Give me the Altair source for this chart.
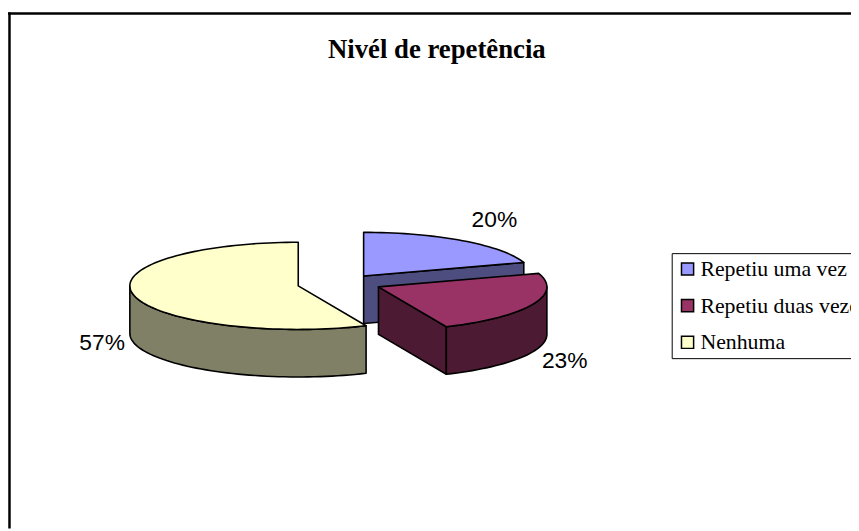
import math
import altair as alt

# ---- values
categories = ["Repetiu uma vez", "Repetiu duas vezes", "Nenhuma"]
shares = [20.0, 23.4, 56.6]
top_colors = ["#9999FF", "#993366", "#FFFFCC"]
side_colors = ["#4D4D80", "#4D1A33", "#808066"]
title_text = "Nivél de repetência"

# ---- layout of the tilted pie (pixels inside the chart)
W, H = 851, 523
RX, RY, DEPTH = 170, 44, 48
centres = [(359, 268), (374, 279), (293, 278)]
label_pos = [(491, 212), (562, 354), (95, 336)]


def ring(points):
    return {"type": "Polygon", "coordinates": [points + [points[0]]]}


def pt(c, deg, dy=0):
    a = math.radians(deg)
    return [round(c[0] + RX * math.sin(a), 2), round(c[1] - RY * math.cos(a) + dy, 2)]


def arc(c, a0, a1, dy=0):
    n = max(2, int(abs(a1 - a0) / 2))
    return [pt(c, a0 + (a1 - a0) * i / n, dy) for i in range(n + 1)]


starts, total = [], 0.0
for s in shares:
    starts.append(total)
    total += s * 3.6

layers = []
for i, (cat, share, c) in enumerate(zip(categories, shares, centres)):
    a0, a1 = starts[i], starts[i] + share * 3.6
    if i == 0:  # cut face at the end of the slice
        side_polys = [[list(c), pt(c, a1), pt(c, a1, DEPTH), [c[0], c[1] + DEPTH]]]
    elif i == 1:  # cut face and rim (only the part in front of the rightmost point shows)
        side_polys = [
            [list(c), pt(c, a1), pt(c, a1, DEPTH), [c[0], c[1] + DEPTH]],
            arc(c, 90, a1) + arc(c, a1, 90, DEPTH),
        ]
    else:  # rim only, to the leftmost point
        side_polys = [arc(c, a0, 270) + arc(c, 270, a0, DEPTH)]
    side = [{"type": "Feature", "properties": {"cat": cat}, "geometry": ring(p)} for p in side_polys]
    top = [{"type": "Feature", "properties": {"cat": cat},
            "geometry": ring([list(c)] + arc(c, a0, a1))}]
    layers.append(alt.Chart(alt.Data(values=side)).mark_geoshape(
        fill=side_colors[i], stroke="black", strokeWidth=1.6, strokeJoin="round"))
    layers.append(alt.Chart(alt.Data(values=top)).mark_geoshape(
        stroke="black", strokeWidth=1.6, strokeJoin="round").encode(
        color=alt.Color("properties.cat:N",
                        scale=alt.Scale(domain=categories, range=top_colors),
                        sort=None,
                        legend=alt.Legend(title=None, orient="none", legendX=670, legendY=245,
                                          fillColor="white", strokeColor="black", padding=5,
                                          symbolType="square", symbolSize=150,
                                          symbolStrokeColor="black", symbolStrokeWidth=1.5,
                                          labelFont="Liberation Serif", labelFontSize=22,
                                          labelColor="black", labelLimit=400, rowPadding=15,
                                          labelOffset=2))))

label_rows = [{"v": s / 100, "px": p[0], "py": p[1]} for s, p in zip(shares, label_pos)]
labels = alt.Chart(alt.Data(values=label_rows)).mark_text(
    font="Liberation Sans", fontSize=23, color="black", baseline="middle"
).encode(
    x=alt.X("px:Q", scale=None),
    y=alt.Y("py:Q", scale=None),
    text=alt.Text("v:Q", format=".0%"),
)

border_left = alt.Chart().mark_rule(color="black", strokeWidth=2.5).encode(
    x=alt.value(1.5), y=alt.value(2), y2=alt.value(H))
border_top = alt.Chart().mark_rule(color="black", strokeWidth=2.5).encode(
    y=alt.value(3), x=alt.value(0), x2=alt.value(W))

chart = (
    alt.layer(border_left, border_top, *layers, labels)
    .project(type="identity", scale=1, translate=[0, 0])
    .properties(
        width=W, height=H, padding=0, background="white",
        autosize=alt.AutoSizeParams(type="none"),
        title=alt.TitleParams(title_text, font="Liberation Serif", fontSize=27, fontWeight="bold",
                              color="black", anchor="start", frame="group", orient="top",
                              baseline="middle", dx=323, dy=67, offset=0),
    )
    .configure_view(stroke=None)
)

chart.save("out.html", embed_options={"renderer": "svg", "actions": False})
